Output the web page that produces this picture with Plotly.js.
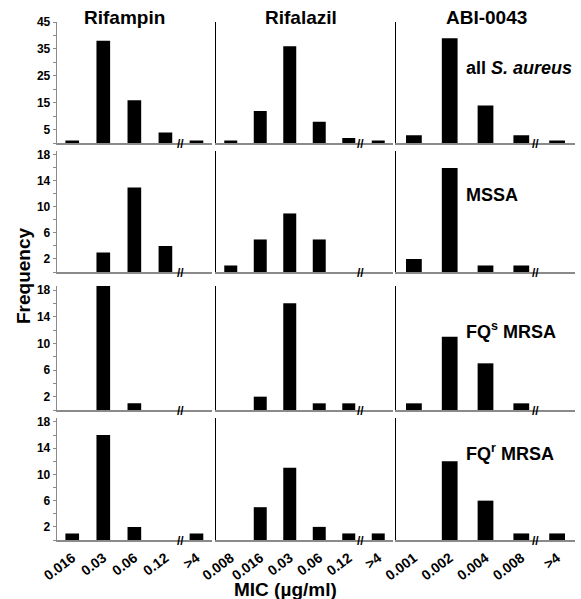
<!DOCTYPE html>
<html><head><meta charset="utf-8">
<script src="https://cdn.plot.ly/plotly-3.0.1.min.js"></script>
<style>html,body{margin:0;padding:0;background:#fff}</style>
</head><body><div id="chart" style="width:581px;height:599px"></div>
<script>
const drugs = ['Rifampin', 'Rifalazil', 'ABI-0043'];
const groups = ['all <i>S. aureus</i>', 'MSSA', 'FQ<sup>s</sup> MRSA', 'FQ<sup>r</sup> MRSA'];
const micRifampin = ['0.016', '0.03', '0.06', '0.12', '>4'];
const micRifalazil = ['0.008', '0.016', '0.03', '0.06', '0.12', '>4'];
const micABI = ['0.001', '0.002', '0.004', '0.008', '>4'];
const rifampinAll = [1, 38, 16, 4, 1];
const rifampinMSSA = [0, 3, 13, 4, 0];
const rifampinFQsMRSA = [0, 19, 1, 0, 0];
const rifampinFQrMRSA = [1, 16, 2, 0, 1];
const rifalazilAll = [1, 12, 36, 8, 2, 1];
const rifalazilMSSA = [1, 5, 9, 5, 0, 0];
const rifalazilFQsMRSA = [0, 2, 16, 1, 1, 0];
const rifalazilFQrMRSA = [0, 5, 11, 2, 1, 1];
const abiAll = [3, 39, 14, 3, 1];
const abiMSSA = [2, 16, 1, 1, 0];
const abiFQsMRSA = [1, 11, 7, 1, 0];
const abiFQrMRSA = [0, 12, 6, 1, 1];
const xTitle = 'MIC (µg/ml)';
const yTitle = 'Frequency';

const cats = [micRifampin, micRifalazil, micABI];
const values = [
  [rifampinAll, rifalazilAll, abiAll],
  [rifampinMSSA, rifalazilMSSA, abiMSSA],
  [rifampinFQsMRSA, rifalazilFQsMRSA, abiFQsMRSA],
  [rifampinFQrMRSA, rifalazilFQrMRSA, abiFQrMRSA]
];

const W = 581, H = 599;
const colPx = [[56.7, 212], [216, 393], [396, 575]];
const rowPx = [[22, 143.3], [151, 272], [286, 410], [418, 540]];
const breakPos = [3.5, 4.4, 3.4];
const FONT = 'Arial, "Liberation Sans", sans-serif';

const traces = [];
const layout = {
  width: W, height: H, margin: {l: 0, r: 0, t: 0, b: 0},
  paper_bgcolor: '#fff', plot_bgcolor: 'rgba(0,0,0,0)',
  showlegend: false, bargap: 0.56,
  font: {family: FONT, color: '#000'},
  annotations: []
};

for (let r = 0; r < 4; r++) {
  for (let c = 0; c < 3; c++) {
    const k = r * 3 + c + 1;
    const xa = 'x' + k, ya = 'y' + k;
    traces.push({
      type: 'bar', x: cats[c], y: values[r][c], xaxis: xa, yaxis: ya,
      marker: {color: '#000', line: {width: 0}}, hoverinfo: 'x+y'
    });
    const n = cats[c].length;
    layout['xaxis' + k] = {
      domain: [colPx[c][0] / W, colPx[c][1] / W], anchor: ya,
      type: 'category', categoryorder: 'array', categoryarray: cats[c],
      range: [-0.5, n - 0.5], showgrid: false, zeroline: false,
      showline: true, linecolor: '#8a8a8a', linewidth: 1.5, ticks: '',
      showticklabels: r === 3, tickangle: -37, ticklabelstandoff: 3,
      tickfont: {family: FONT, size: 14, weight: 'bold', color: '#000'}
    };
    const top = r === 0;
    const yax = {
      domain: [1 - rowPx[r][1] / H, 1 - rowPx[r][0] / H], anchor: xa,
      range: top ? [0, 45] : [0, 18.6], showgrid: false, zeroline: false,
      showline: true
    };
    if (c === 0) {
      Object.assign(yax, {
        linecolor: '#8a8a8a', linewidth: 1,
        ticks: 'outside', ticklen: 3, tickcolor: '#8a8a8a', tickwidth: 1,
        tickmode: 'linear', tick0: top ? 5 : 2, dtick: top ? 10 : 4,
        minor: {ticks: 'outside', ticklen: 3, tickcolor: '#8a8a8a', dtick: top ? 5 : 2, tick0: 0},
        tickfont: {family: FONT, size: 12, weight: 'bold', color: '#000'}
      });
    } else {
      Object.assign(yax, {linecolor: '#000', linewidth: 1.5, ticks: '', showticklabels: false});
    }
    layout['yaxis' + k] = yax;
    layout.annotations.push({
      xref: xa, yref: ya, x: breakPos[c], y: 0, text: '<b>//</b>', showarrow: false,
      xanchor: 'center', yanchor: 'middle', yshift: -1,
      font: {family: FONT, size: 12, color: '#000'}
    });
  }
}

const titleX = [124, 301, 486];
drugs.forEach((d, i) => layout.annotations.push({
  xref: 'paper', yref: 'paper', x: titleX[i] / W, y: 1 - 17 / H, text: '<b>' + d + '</b>',
  showarrow: false, xanchor: 'center', yanchor: 'middle',
  font: {family: FONT, size: 19, color: '#000'}
}));
const groupY = [68, 195, 330, 452];
groups.forEach((g, i) => layout.annotations.push({
  xref: 'paper', yref: 'paper', x: 464 / W, y: 1 - groupY[i] / H, text: '<b>' + g + '</b>',
  showarrow: false, xanchor: 'left', yanchor: 'middle',
  font: {family: FONT, size: 18, color: '#000'}
}));
layout.annotations.push({
  xref: 'paper', yref: 'paper', x: 285 / W, y: 1 - 589 / H, text: '<b>' + xTitle + '</b>',
  showarrow: false, xanchor: 'center', yanchor: 'middle',
  font: {family: FONT, size: 19, color: '#000'}
});
layout.annotations.push({
  xref: 'paper', yref: 'paper', x: 24 / W, y: 1 - 276 / H, text: '<b>' + yTitle + '</b>',
  showarrow: false, xanchor: 'center', yanchor: 'middle', textangle: -90,
  font: {family: FONT, size: 19, color: '#000'}
});

Plotly.newPlot('chart', traces, layout, {displayModeBar: false, staticPlot: true});
</script></body></html>
